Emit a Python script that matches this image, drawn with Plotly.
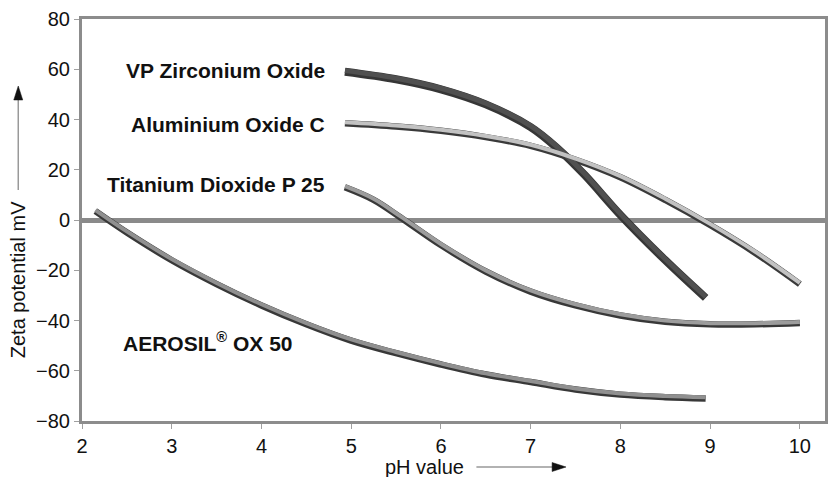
import plotly.graph_objects as go

# Data
zr_ph = [4.93, 5.5, 6.0, 6.5, 7.0, 7.3, 7.6, 8.0, 8.5, 8.95]
zr_zeta = [59, 56, 52, 46, 37, 28.5, 18, 2, -16, -31]

al_ph = [4.93, 5.5, 6.0, 6.5, 7.0, 7.5, 8.0, 8.5, 9.0, 9.5, 10.0]
al_zeta = [38.5, 37.2, 35.5, 33, 29.5, 24, 17, 8, -2, -13, -25.5]

ti_ph = [4.93, 5.25, 5.55, 6.0, 6.5, 7.0, 7.5, 8.0, 8.5, 9.0, 9.5, 10.0]
ti_zeta = [13, 8, 1, -10, -20.5, -28.5, -34, -38, -40.5, -41.5, -41.5, -41]

ox_ph = [2.15, 2.5, 3.0, 3.5, 4.0, 4.5, 5.0, 5.5, 6.0, 6.5, 7.0, 7.5, 8.0, 8.5, 8.95]
ox_zeta = [3.5, -5, -16, -25.5, -34, -41.5, -48, -53, -57.5, -61.5, -64.5, -67.5, -69.5, -70.5, -71]

series = [
    ("VP Zirconium Oxide", zr_ph, zr_zeta, "#363636", 8, "#505050", 5),
    ("Aluminium Oxide C", al_ph, al_zeta, "#3a3a3a", 6.5, "#c2c2c2", 4),
    ("Titanium Dioxide P 25", ti_ph, ti_zeta, "#383838", 6.5, "#9c9c9c", 4),
    ("AEROSIL OX 50", ox_ph, ox_zeta, "#383838", 6.5, "#909090", 4),
]

x_ticks = [2, 3, 4, 5, 6, 7, 8, 9, 10]
y_ticks = [-80, -60, -40, -20, 0, 20, 40, 60, 80]

fig = go.Figure()
for name, xs, ys, dark, wd, light, wl in series:
    fig.add_trace(go.Scatter(x=xs, y=ys, mode="lines", name=name,
                             line=dict(color=dark, width=wd, shape="spline", smoothing=1.0),
                             hoverinfo="skip"))
    fig.add_trace(go.Scatter(x=xs, y=ys, mode="lines", name=name, yaxis="y2",
                             line=dict(color=light, width=wl, shape="spline", smoothing=1.0),
                             hoverinfo="skip"))

font = "Liberation Sans, Arial, Helvetica, sans-serif"
axis_common = dict(showline=True, linecolor="#8c8c8c", linewidth=3, mirror=True,
                   ticks="outside", ticklen=5, tickcolor="#a0a0a0", tickwidth=1,
                   showgrid=False, tickfont=dict(family=font, size=20, color="#111"))

PW, PH, L, B = 746.0, 402.0, 82.0, 421.0  # plot area in px (for paper conversions)


def px(x):
    return (x - L) / PW


def py(y):
    return (B - y) / PH


fig.update_layout(
    width=831, height=477,
    margin=dict(l=82, r=3, t=19, b=56),
    plot_bgcolor="white", paper_bgcolor="white",
    showlegend=False,
    xaxis=dict(range=[2, 10.28], tickvals=x_ticks, zeroline=False, **axis_common),
    yaxis=dict(range=[-80, 80], tickvals=y_ticks, zeroline=True,
               zerolinecolor="#8a8a8a", zerolinewidth=5, **axis_common),
    yaxis2=dict(range=[-80.45, 79.55], overlaying="y", visible=False),
)

lab = dict(family=font, size=21, color="#111")
fig.add_annotation(x=4.73, y=59.5, text="<b>VP Zirconium Oxide</b>", showarrow=False,
                   xanchor="right", yanchor="middle", font=lab)
fig.add_annotation(x=4.73, y=38, text="<b>Aluminium Oxide C</b>", showarrow=False,
                   xanchor="right", yanchor="middle", font=lab)
fig.add_annotation(x=4.73, y=14, text="<b>Titanium Dioxide P 25</b>", showarrow=False,
                   xanchor="right", yanchor="middle", font=lab)
fig.add_annotation(x=2.44, y=-48.5, text="<b>AEROSIL<sup>®</sup> OX 50</b>", showarrow=False,
                   xanchor="left", yanchor="middle", font=lab)

# axis titles with arrows
tfont = dict(family=font, size=20, color="#111")
fig.add_annotation(xref="paper", yref="paper", x=px(18), y=py(280), text="Zeta potential mV",
                   textangle=-90, showarrow=False, xanchor="center", yanchor="middle", font=tfont)
fig.add_shape(type="line", xref="paper", yref="paper", x0=px(18), x1=px(18),
              y0=py(190), y1=py(98), line=dict(color="#999", width=1.5))
fig.add_shape(type="path", xref="paper", yref="paper",
              path=f"M {px(18)} {py(86)} L {px(13.5)} {py(100)} L {px(22.5)} {py(100)} Z",
              fillcolor="#111", line=dict(color="#111", width=0.5))

fig.add_annotation(xref="paper", yref="paper", x=px(426), y=py(467), text="pH value",
                   showarrow=False, xanchor="center", yanchor="middle", font=tfont)
fig.add_shape(type="line", xref="paper", yref="paper", x0=px(478), x1=px(556),
              y0=py(467), y1=py(467), line=dict(color="#999", width=1.5))
fig.add_shape(type="path", xref="paper", yref="paper",
              path=f"M {px(568)} {py(467)} L {px(554)} {py(462.5)} L {px(554)} {py(471.5)} Z",
              fillcolor="#111", line=dict(color="#111", width=0.5))

fig.write_html("out.html")
